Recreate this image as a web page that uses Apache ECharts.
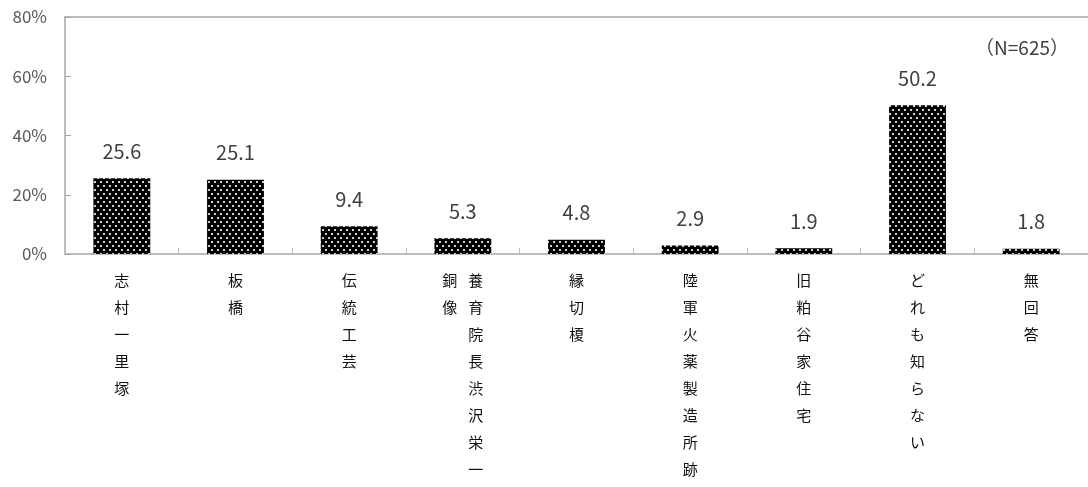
<!DOCTYPE html>
<html>
<head>
<meta charset="utf-8">
<script src="https://cdn.jsdelivr.net/npm/echarts@6/dist/echarts.min.js"></script>
<style>
html, body { margin: 0; padding: 0; background: #fff; }
#main { width: 1088px; height: 487px; }
</style>
</head>
<body>
<div id="main"></div>
<script>
var categories = ['志村一里塚', '板橋', '伝統工芸', '養育院長渋沢栄一銅像', '縁切榎', '陸軍火薬製造所跡', '旧粕谷家住宅', 'どれも知らない', '無回答'];
var values = [25.6, 25.1, 9.4, 5.3, 4.8, 2.9, 1.9, 50.2, 1.8];
var yTicks = [0, 20, 40, 60, 80];
var sampleNote = '（N=625）';

var FONT = '"Noto Sans CJK JP", "Noto Sans", sans-serif';

// black fill with white dots
function dotPattern() {
    var c = document.createElement('canvas');
    c.width = 6; c.height = 8;
    var ctx = c.getContext('2d');
    ctx.fillStyle = '#000';
    ctx.fillRect(0, 0, 6, 8);
    ctx.fillStyle = '#cfcfcf';
    ctx.fillRect(1, 1, 2, 2);
    ctx.fillRect(4, 5, 2, 2);
    return c;
}

// vertical writing: 8 chars per column, columns run right to left
function verticalLabel(name) {
    var cols = [];
    for (var i = 0; i < name.length; i += 8) cols.push(name.substr(i, 8));
    if (cols.length === 1) return cols[0].split('').join('\n');
    cols.reverse();
    var rows = [];
    for (var r = 0; r < 8; r++) {
        var line = '';
        for (var k = 0; k < cols.length; k++) {
            line += '{c|' + (cols[k].charAt(r) || '　') + '}';
        }
        rows.push(line);
    }
    return rows.join('\n');
}

var chart = echarts.init(document.getElementById('main'));

chart.setOption({
    animation: false,
    textStyle: { fontFamily: FONT },
    title: {
        text: sampleNote,
        right: 14,
        top: 33,
        textStyle: { fontSize: 19, fontWeight: 'normal', color: '#404040', fontFamily: FONT }
    },
    grid: { left: 65, right: -2, top: 17, bottom: 233 },
    xAxis: [{
        type: 'category',
        data: categories,
        axisLine: { lineStyle: { color: '#a6a6a6', width: 1.5 } },
        axisTick: { show: true, inside: true, length: 6, lineStyle: { color: '#bfbfbf' } },
        axisLabel: {
            interval: 0,
            margin: 13,
            fontSize: 15,
            lineHeight: 27,
            color: '#111',
            fontFamily: FONT,
            formatter: verticalLabel,
            rich: { c: { width: 26, align: 'center', fontSize: 15, lineHeight: 27, color: '#111', fontFamily: FONT } }
        }
    }, {
        type: 'category',
        position: 'top',
        data: categories,
        axisLine: { lineStyle: { color: '#a6a6a6', width: 1.5 } },
        axisTick: { show: false },
        axisLabel: { show: false }
    }],
    yAxis: {
        type: 'value',
        min: 0,
        max: 80,
        interval: 20,
        axisLine: { show: true, lineStyle: { color: '#a6a6a6', width: 1.5 } },
        axisTick: { show: true, inside: true, length: 6, lineStyle: { color: '#a6a6a6' } },
        splitLine: { show: false },
        axisLabel: {
            margin: 18,
            fontSize: 17,
            color: '#595959',
            fontFamily: FONT,
            formatter: function (v) { return yTicks.indexOf(v) >= 0 ? v + '%' : ''; }
        }
    },
    series: [{
        type: 'bar',
        data: values,
        barWidth: '50%',
        itemStyle: { color: { image: dotPattern(), repeat: 'repeat' } },
        label: {
            show: true,
            position: 'top',
            distance: 17,
            fontSize: 20,
            color: '#404040',
            fontFamily: FONT,
            formatter: function (p) { return p.value.toFixed(1); }
        }
    }]
});
</script>
</body>
</html>
